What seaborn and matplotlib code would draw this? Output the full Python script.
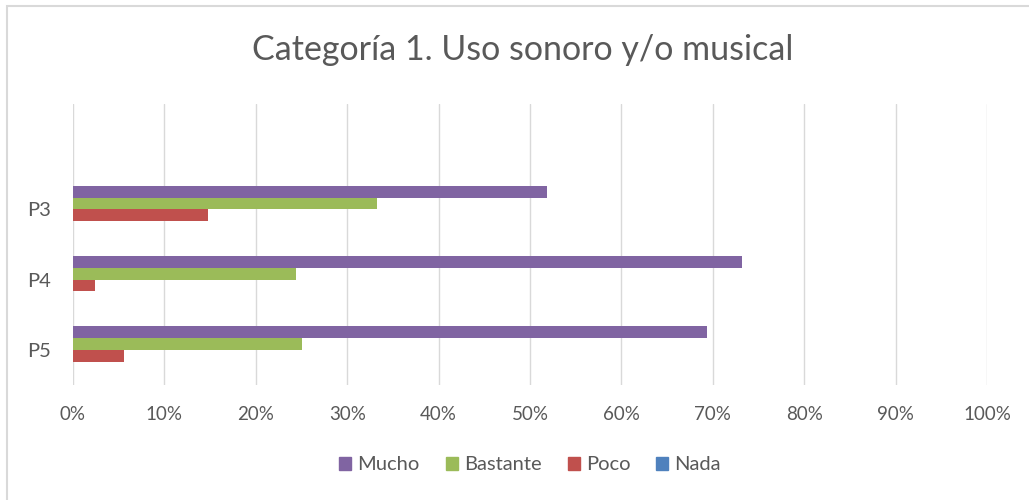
import matplotlib
matplotlib.use("Agg")
import matplotlib.pyplot as plt
import matplotlib.patches as mpatches
import numpy as np
import pandas as pd
import seaborn as sns

# Survey answers per question (percent of respondents)
preguntas = ["P3", "P4", "P5"]
niveles = ["Mucho", "Bastante", "Poco", "Nada"]
mucho = [51.9, 73.2, 69.4]
bastante = [33.3, 24.4, 25.0]
poco = [14.8, 2.4, 5.6]
nada = [0.0, 0.0, 0.0]
ticks_x = ["0%", "10%", "20%", "30%", "40%", "50%", "60%", "70%", "80%", "90%", "100%"]
titulo = "Categoría 1. Uso sonoro y/o musical"

colores = {"Mucho": "#8064A2", "Bastante": "#9BBB59", "Poco": "#C0504D", "Nada": "#4F81BD"}

df = pd.DataFrame({
    "pregunta": np.repeat(preguntas, len(niveles)),
    "nivel": niveles * len(preguntas),
    "valor": [v for fila in zip(mucho, bastante, poco, nada) for v in fila],
})

sns.set_theme(style="white")
plt.rcParams["font.family"] = ["Lato", "DejaVu Sans"]
gris = "#595959"

fig = plt.figure(figsize=(10.29, 5.0), dpi=100)
ax = fig.add_axes([73 / 1029, 1 - 385 / 500, (987 - 73) / 1029, (385 - 104) / 500])

sns.barplot(data=df, y="pregunta", x="valor", hue="nivel", order=preguntas,
            hue_order=niveles, palette=colores, orient="h", width=0.67,
            saturation=1, linewidth=0, edgecolor="none", ax=ax, legend=False)

# one empty category slot above P3
ax.set_ylim(2.5, -1.5)
ax.set_xlim(0, 100)
ax.set_xticks(np.arange(0, 101, 10))
ax.set_xticklabels(ticks_x)
ax.set_xlabel("")
ax.set_ylabel("")
ax.xaxis.grid(True, color="#D9D9D9", linewidth=1)
ax.yaxis.grid(False)
ax.set_axisbelow(True)
for s in ax.spines.values():
    s.set_visible(False)
ax.tick_params(axis="x", colors=gris, labelsize=13.5, length=0, pad=15)
ax.tick_params(axis="y", colors=gris, labelsize=14.5, length=0, pad=16)

fig.text(523 / 1029, 1 - 50 / 500, titulo, ha="center", va="center",
         fontsize=24.5, color=gris)

handles = [mpatches.Patch(color=colores[n], label=n) for n in niveles]
leg = fig.legend(handles=handles, loc="center", bbox_to_anchor=(530 / 1029, 1 - 465 / 500),
                 ncol=4, frameon=False, fontsize=14.5, handlelength=0.6, handleheight=0.6,
                 handletextpad=0.3, columnspacing=1.3)
for t in leg.get_texts():
    t.set_color(gris)

# chart frame
fig.patches.append(mpatches.Rectangle((7 / 1029, -0.1), 1.2, 1 - 6 / 500 + 0.1,
                                      transform=fig.transFigure, fill=False,
                                      edgecolor="#D9D9D9", linewidth=1.5))

fig.savefig("out.png", dpi=100, facecolor="white")
